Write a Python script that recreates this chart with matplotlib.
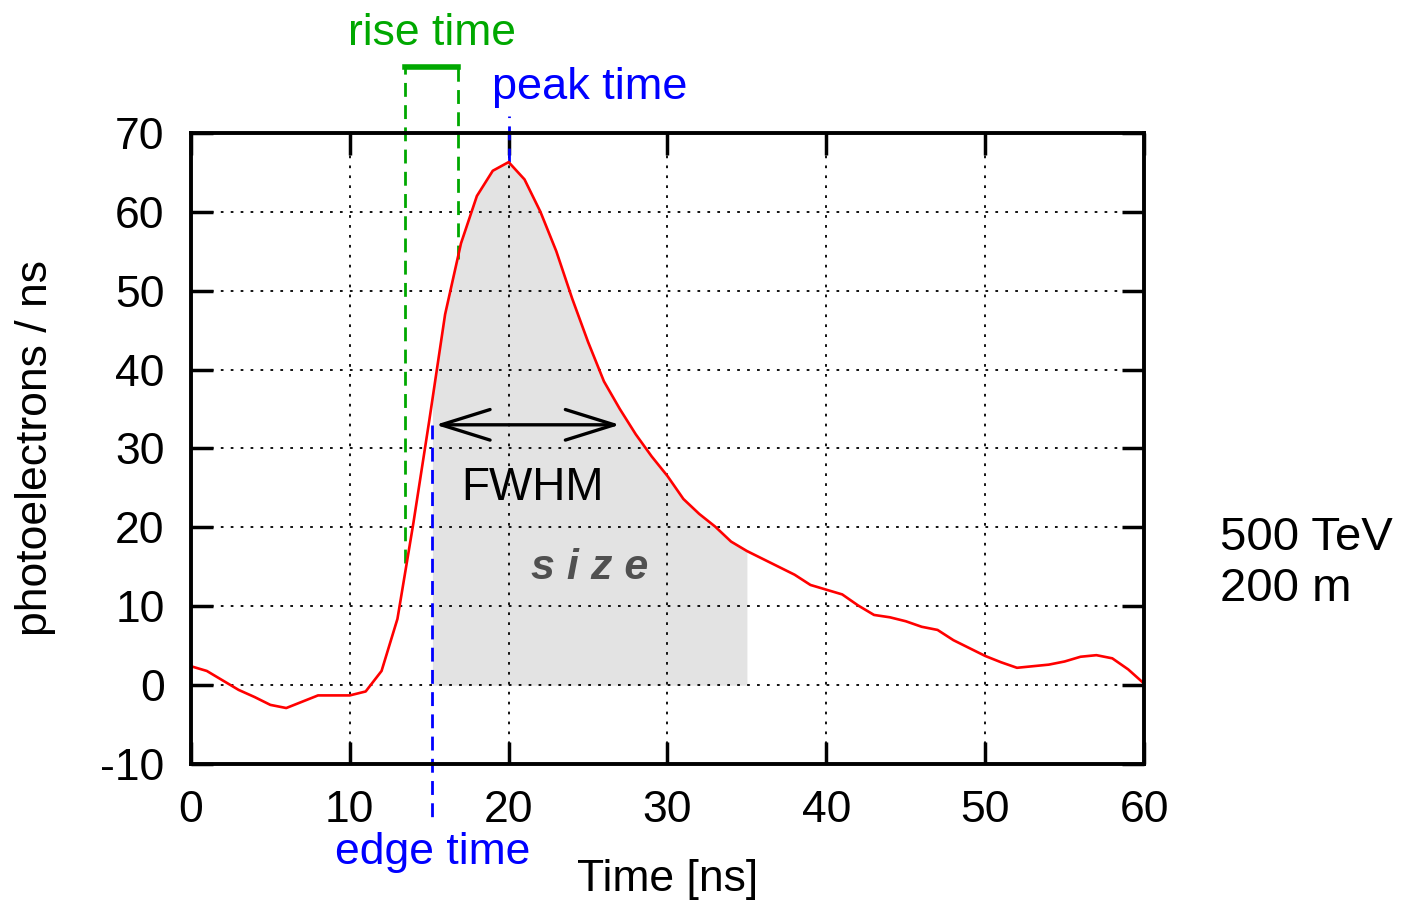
import numpy as np
import matplotlib
matplotlib.use("Agg")
import matplotlib.pyplot as plt

time_ns = np.arange(0, 61)
pe_per_ns = [2.4, 1.8, 0.6, -0.6, -1.5, -2.5, -2.9, -2.1, -1.3, -1.3,
             -1.3, -0.8, 1.8, 8.4, 20.5, 33.5, 47.0, 56.0, 62.0, 65.2,
             66.3, 64.1, 60.0, 55.0, 49.0, 43.5, 38.5, 35.0, 31.8, 29.0,
             26.5, 23.6, 21.7, 20.1, 18.2, 17.0, 16.0, 15.0, 14.0, 12.7,
             12.1, 11.5, 10.1, 8.9, 8.6, 8.1, 7.4, 7.0, 5.7, 4.7,
             3.7, 2.9, 2.2, 2.4, 2.6, 3.0, 3.6, 3.8, 3.4, 2.0, 0.2]

edge_time = 15.2
peak_time = 20.0
rise_start, rise_end = 13.5, 16.8
size_end = 35.0
fwhm_level = 33.0
fwhm_left, fwhm_right = 15.4, 27.0

xticks = [0, 10, 20, 30, 40, 50, 60]
yticks = [-10, 0, 10, 20, 30, 40, 50, 60, 70]
ytick_labels = ["-10", "0", "10", "20", "30", "40", "50", "60", "70"]

plt.rcParams["font.family"] = ["Liberation Sans", "DejaVu Sans"]
GREEN = "#00a800"
BLUE = "#0000ff"

fig = plt.figure(figsize=(14.06, 9.01), dpi=100)
ax = fig.add_axes([0.1358, 0.152, 0.6779, 0.7005])

y = np.array(pe_per_ns)
tf = np.linspace(edge_time, size_end, 300)
ax.fill_between(tf, np.interp(tf, time_ns, y), 0, color="#e3e3e3", lw=0, zorder=1)
ax.plot(time_ns, y, color="red", lw=1.9, zorder=4)

ax.set_xlim(0, 60)
ax.set_ylim(-10, 70)
ax.set_xticks(xticks)
ax.set_yticks(yticks, ytick_labels)
ax.grid(True, color="black", linestyle=(0, (1.5, 4)), lw=1.3)
ax.tick_params(direction="in", length=16, width=2.5, top=True, right=True,
               labelsize=32, pad=19)
for s in ax.spines.values():
    s.set_linewidth(2.8)
    s.set_zorder(5)

ax.set_xlabel("Time [ns]", fontsize=32)
ax.xaxis.set_label_coords(0.5, -0.151)
ax.set_ylabel("photoelectrons / ns", fontsize=32)
ax.yaxis.set_label_coords(-0.142, 0.5)

# rise time marker
dash = (0, (5, 3))
ax.plot([rise_start, rise_start], [15.5, 78.4], color=GREEN, ls=dash, lw=2, clip_on=False, zorder=3)
ax.plot([rise_end, rise_end], [54.0, 78.4], color=GREEN, ls=dash, lw=2, clip_on=False, zorder=3)
ax.plot([rise_start, rise_end], [78.4, 78.4], color=GREEN, lw=4, clip_on=False, zorder=3)
ax.text((rise_start + rise_end) / 2, 82.6, "rise time", color=GREEN, fontsize=32,
        ha="center", va="center", clip_on=False)

# peak time marker
ax.plot([peak_time, peak_time], [66.3, 72.1], color=BLUE, ls=dash, lw=2, clip_on=False, zorder=3)
ax.text(25.1, 75.7, "peak time", color=BLUE, fontsize=32.5, ha="center", va="center", clip_on=False)

# edge time marker
ax.plot([edge_time, edge_time], [fwhm_level, -17.3], color=BLUE, ls=dash, lw=2, clip_on=False, zorder=3)
ax.text(edge_time, -21.2, "edge time", color=BLUE, fontsize=32, ha="center", va="center",
        clip_on=False)

# FWHM arrow
ax.annotate("", xy=(fwhm_left, fwhm_level), xytext=(fwhm_right, fwhm_level),
            arrowprops=dict(arrowstyle="<->,head_length=1.6,head_width=0.5", lw=2.4,
                            color="black", shrinkA=0, shrinkB=0, mutation_scale=22), zorder=6)
ax.text(21.5, 25.0, "FWHM", fontsize=33, ha="center", va="center", zorder=6)
ax.text(25.1, 14.9, "s i z e", fontsize=31, ha="center", va="center", color="#505050",
        fontweight="bold", fontstyle="italic", zorder=6)

fig.text(0.868, 0.375, "500 TeV\n200 m", fontsize=34, ha="left", va="center", linespacing=1.2)

fig.savefig("out.png", dpi=100)
